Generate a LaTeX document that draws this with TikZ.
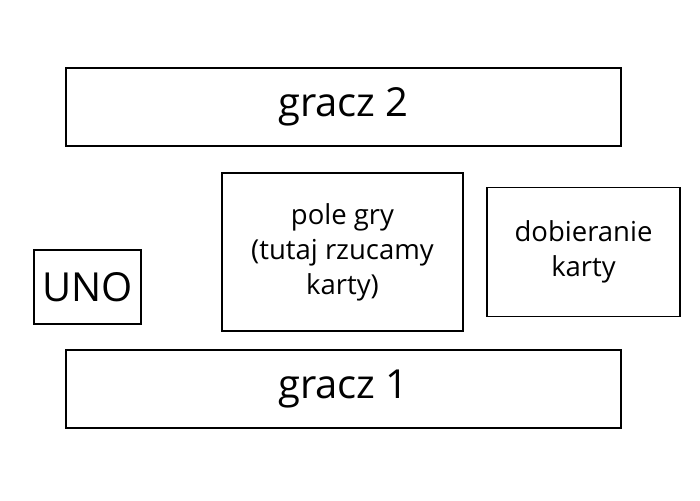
\documentclass[tikz,border=0pt]{standalone}
\usepackage{fontspec}
\setmainfont{Open Sans}
\begin{document}
\begin{tikzpicture}[x=1pt,y=1pt,
  box/.style={draw=black,line width=1.5pt,anchor=center,inner sep=0pt,align=center},
  big/.style={font=\fontsize{40}{46}\selectfont},
  mid/.style={font=\fontsize{27.5}{35}\selectfont}]
\useasboundingbox (0,0) rectangle (700,500);
\fill[white] (0,0) rectangle (700,500);
\node[box,big,minimum width=555pt,minimum height=78pt] (g2) at (343.5,393) {gracz 2};
\node[box,mid,minimum width=241pt,minimum height=158pt] (pole) at (342.5,248) {pole gry\\(tutaj rzucamy\\karty)};
\node[box,mid,minimum width=193pt,minimum height=129pt] (dob) at (583.5,248) {dobieranie\\karty};
\node[box,big,minimum width=107pt,minimum height=74pt] (uno) at (87.5,213) {UNO};
\node[box,big,minimum width=555pt,minimum height=78pt] (g1) at (343.5,111) {gracz 1};
\end{tikzpicture}
\end{document}
